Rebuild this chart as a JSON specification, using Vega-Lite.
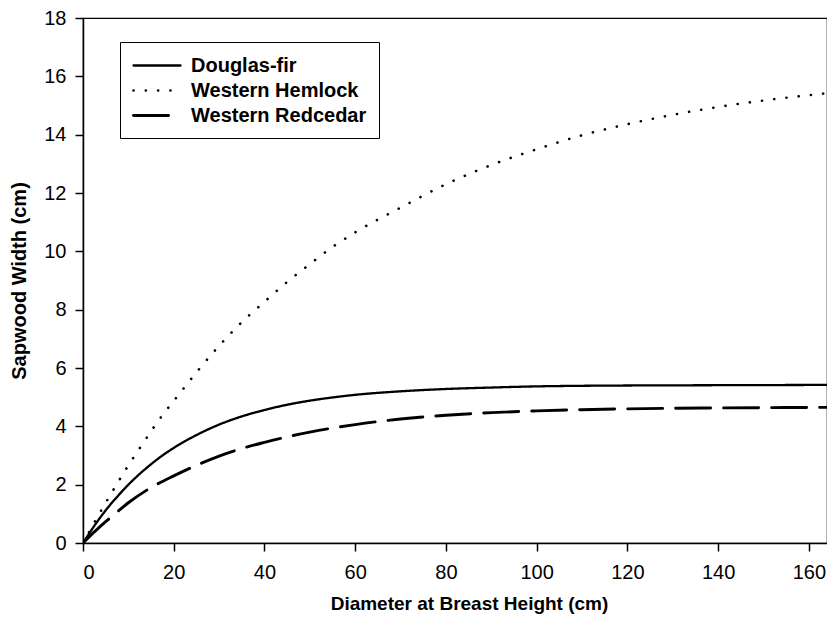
{
  "$schema": "https://vega.github.io/schema/vega-lite/v6.json",
  "width": 744,
  "height": 525,
  "autosize": {"type": "none"},
  "padding": {"left": 83, "top": 18, "right": 0, "bottom": 76},
  "background": "white",
  "data": {
    "values": [
      {"species": "Douglas-fir", "dbh": 0, "sw": 0},
      {"species": "Douglas-fir", "dbh": 2.5, "sw": 0.59},
      {"species": "Douglas-fir", "dbh": 5, "sw": 1.12},
      {"species": "Douglas-fir", "dbh": 7.5, "sw": 1.58},
      {"species": "Douglas-fir", "dbh": 10, "sw": 2.0},
      {"species": "Douglas-fir", "dbh": 12.5, "sw": 2.37},
      {"species": "Douglas-fir", "dbh": 15, "sw": 2.7},
      {"species": "Douglas-fir", "dbh": 17.5, "sw": 3.0},
      {"species": "Douglas-fir", "dbh": 20, "sw": 3.26},
      {"species": "Douglas-fir", "dbh": 25, "sw": 3.7},
      {"species": "Douglas-fir", "dbh": 30, "sw": 4.06},
      {"species": "Douglas-fir", "dbh": 35, "sw": 4.34},
      {"species": "Douglas-fir", "dbh": 40, "sw": 4.56},
      {"species": "Douglas-fir", "dbh": 45, "sw": 4.74},
      {"species": "Douglas-fir", "dbh": 50, "sw": 4.88},
      {"species": "Douglas-fir", "dbh": 55, "sw": 4.99},
      {"species": "Douglas-fir", "dbh": 60, "sw": 5.08},
      {"species": "Douglas-fir", "dbh": 70, "sw": 5.2},
      {"species": "Douglas-fir", "dbh": 80, "sw": 5.28},
      {"species": "Douglas-fir", "dbh": 90, "sw": 5.33},
      {"species": "Douglas-fir", "dbh": 100, "sw": 5.37},
      {"species": "Douglas-fir", "dbh": 110, "sw": 5.39},
      {"species": "Douglas-fir", "dbh": 120, "sw": 5.4},
      {"species": "Douglas-fir", "dbh": 140, "sw": 5.41},
      {"species": "Douglas-fir", "dbh": 164, "sw": 5.42},
      {"species": "Western Hemlock", "dbh": 0, "sw": 0},
      {"species": "Western Hemlock", "dbh": 2.5, "sw": 0.7},
      {"species": "Western Hemlock", "dbh": 5, "sw": 1.38},
      {"species": "Western Hemlock", "dbh": 7.5, "sw": 2.03},
      {"species": "Western Hemlock", "dbh": 10, "sw": 2.66},
      {"species": "Western Hemlock", "dbh": 12.5, "sw": 3.25},
      {"species": "Western Hemlock", "dbh": 15, "sw": 3.83},
      {"species": "Western Hemlock", "dbh": 17.5, "sw": 4.38},
      {"species": "Western Hemlock", "dbh": 20, "sw": 4.87},
      {"species": "Western Hemlock", "dbh": 25, "sw": 5.85},
      {"species": "Western Hemlock", "dbh": 30, "sw": 6.76},
      {"species": "Western Hemlock", "dbh": 35, "sw": 7.57},
      {"species": "Western Hemlock", "dbh": 40, "sw": 8.27},
      {"species": "Western Hemlock", "dbh": 45, "sw": 8.95},
      {"species": "Western Hemlock", "dbh": 50, "sw": 9.56},
      {"species": "Western Hemlock", "dbh": 55, "sw": 10.15},
      {"species": "Western Hemlock", "dbh": 60, "sw": 10.65},
      {"species": "Western Hemlock", "dbh": 70, "sw": 11.5},
      {"species": "Western Hemlock", "dbh": 80, "sw": 12.3},
      {"species": "Western Hemlock", "dbh": 90, "sw": 12.96},
      {"species": "Western Hemlock", "dbh": 100, "sw": 13.5},
      {"species": "Western Hemlock", "dbh": 110, "sw": 13.98},
      {"species": "Western Hemlock", "dbh": 120, "sw": 14.36},
      {"species": "Western Hemlock", "dbh": 130, "sw": 14.68},
      {"species": "Western Hemlock", "dbh": 140, "sw": 14.95},
      {"species": "Western Hemlock", "dbh": 150, "sw": 15.17},
      {"species": "Western Hemlock", "dbh": 164, "sw": 15.42},
      {"species": "Western Redcedar", "dbh": 0, "sw": 0},
      {"species": "Western Redcedar", "dbh": 2.5, "sw": 0.38},
      {"species": "Western Redcedar", "dbh": 5, "sw": 0.73},
      {"species": "Western Redcedar", "dbh": 7.5, "sw": 1.06},
      {"species": "Western Redcedar", "dbh": 10, "sw": 1.38},
      {"species": "Western Redcedar", "dbh": 15, "sw": 1.9},
      {"species": "Western Redcedar", "dbh": 20, "sw": 2.3},
      {"species": "Western Redcedar", "dbh": 25, "sw": 2.66},
      {"species": "Western Redcedar", "dbh": 30, "sw": 2.98},
      {"species": "Western Redcedar", "dbh": 35, "sw": 3.24},
      {"species": "Western Redcedar", "dbh": 40, "sw": 3.45},
      {"species": "Western Redcedar", "dbh": 45, "sw": 3.64},
      {"species": "Western Redcedar", "dbh": 50, "sw": 3.8},
      {"species": "Western Redcedar", "dbh": 55, "sw": 3.94},
      {"species": "Western Redcedar", "dbh": 60, "sw": 4.06},
      {"species": "Western Redcedar", "dbh": 70, "sw": 4.25},
      {"species": "Western Redcedar", "dbh": 80, "sw": 4.38},
      {"species": "Western Redcedar", "dbh": 90, "sw": 4.47},
      {"species": "Western Redcedar", "dbh": 100, "sw": 4.53},
      {"species": "Western Redcedar", "dbh": 110, "sw": 4.57},
      {"species": "Western Redcedar", "dbh": 120, "sw": 4.6},
      {"species": "Western Redcedar", "dbh": 140, "sw": 4.63},
      {"species": "Western Redcedar", "dbh": 164, "sw": 4.65}
    ]
  },
  "mark": {"type": "line", "interpolate": "monotone", "color": "black", "strokeCap": "round", "clip": true},
  "encoding": {
    "x": {
      "field": "dbh", "type": "quantitative",
      "scale": {"domain": [0, 164], "nice": false},
      "axis": {"values": [0, 20, 40, 60, 80, 100, 120, 140, 160], "title": "Diameter at Breast Height (cm)", "titleX": 386, "labelPadding": 11, "titlePadding": 12}
    },
    "y": {
      "field": "sw", "type": "quantitative",
      "scale": {"domain": [0, 18], "nice": false},
      "axis": {"values": [0, 2, 4, 6, 8, 10, 12, 14, 16, 18], "title": "Sapwood Width (cm)", "labelPadding": 9, "titlePadding": 14, "titleFontSize": 20}
    },
    "strokeWidth": {
      "field": "species", "type": "nominal",
      "scale": {"domain": ["Douglas-fir", "Western Hemlock", "Western Redcedar"], "range": [2.3, 2.9, 2.2]},
      "legend": null
    },
    "strokeDash": {
      "field": "species", "type": "nominal",
      "scale": {"domain": ["Douglas-fir", "Western Hemlock", "Western Redcedar"], "range": [[1, 0], [0.1, 12.2], [35, 13]]},
      "legend": {
        "title": null,
        "orient": "none",
        "legendX": 37,
        "legendY": 24,
        "direction": "vertical",
        "symbolType": "M-2.35,0H2.35",
        "symbolSize": 400,
        "symbolOffset": 13.5,
        "symbolStrokeWidth": 2.3,
        "symbolStrokeColor": "black",
        "symbolFillColor": "transparent",
        "labelFont": "Liberation Sans",
        "labelFontSize": 20,
        "labelFontWeight": "bold",
        "labelColor": "black",
        "labelOffset": 22.5,
        "labelLimit": 400,
        "labelExpr": "datum.label + '\u00a0\u00a0'",
        "rowPadding": 3,
        "padding": 12,
        "strokeColor": "black",
        "fillColor": "white",
        "encode": {"symbols": {"update": {"strokeCap": {"value": "round"}}}}
      }
    }
  },
  "config": {
    "view": {"stroke": "black", "strokeWidth": 1.2},
    "axis": {
      "grid": false,
      "domainColor": "black",
      "domainWidth": 1.5,
      "tickColor": "black",
      "tickWidth": 1.5,
      "tickSize": 8,
      "labelFont": "Liberation Sans",
      "labelFontSize": 20,
      "labelColor": "black",
      "titleFont": "Liberation Sans",
      "titleFontSize": 19,
      "titleFontWeight": "bold",
      "titleColor": "black"
    }
  }
}
